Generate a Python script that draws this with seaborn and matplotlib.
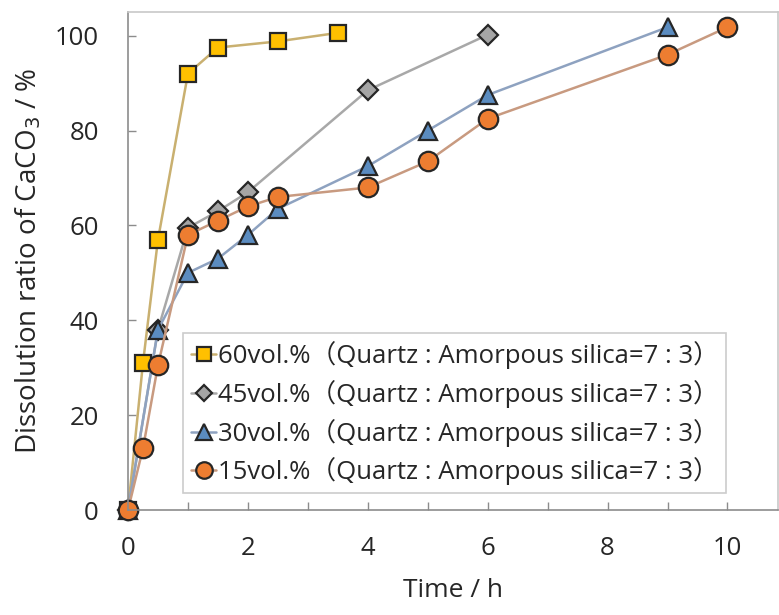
import matplotlib
matplotlib.use("Agg")
import matplotlib.pyplot as plt
import seaborn as sns
import pandas as pd

# ---- data ----
t60 = [0, 0.25, 0.5, 1, 1.5, 2.5, 3.5]
y60 = [0, 31, 57, 92, 97.5, 98.8, 100.6]
t45 = [0, 0.5, 1, 1.5, 2, 4, 6]
y45 = [0, 38, 59.5, 63, 67, 88.5, 100.2]
t30 = [0, 0.5, 1, 1.5, 2, 2.5, 4, 5, 6, 9]
y30 = [0, 38, 50, 53, 58, 63.5, 72.5, 80, 87.5, 101.8]
t15 = [0, 0.25, 0.5, 1, 1.5, 2, 2.5, 4, 5, 6, 9, 10]
y15 = [0, 13, 30.5, 58, 61, 64, 66, 68, 73.5, 82.5, 96, 101.8]
labels = ["60vol.%（Quartz : Amorpous silica=7 : 3）",
          "45vol.%（Quartz : Amorpous silica=7 : 3）",
          "30vol.%（Quartz : Amorpous silica=7 : 3）",
          "15vol.%（Quartz : Amorpous silica=7 : 3）"]
xticks = [0, 2, 4, 6, 8, 10]
yticks = [0, 20, 40, 60, 80, 100]

sns.set_theme(style="white")
plt.rcParams['font.family'] = ['Open Sans', 'Noto Sans CJK JP', 'DejaVu Sans']

fig = plt.figure(figsize=(7.79, 6.15), dpi=100)
ax = fig.add_axes([0.1643, 0.1707, 0.835, 0.8098])

series = [
    (t60, y60, labels[0], "s", "#FFC000", "#C9B070", 12),
    (t45, y45, labels[1], "D", "#A5A5A5", "#A8A8A8", 10),
    (t30, y30, labels[2], "^", "#5B8CC0", "#8EA2C0", 13),
    (t15, y15, labels[3], "o", "#ED7D31", "#C89A80", 14),
]
for tx, ty, lab, mk, fc, lc, ms in series:
    df = pd.DataFrame({"t": tx, "y": ty})
    sns.lineplot(data=df, x="t", y="y", ax=ax, label=lab, color=lc,
                 linewidth=1.8, marker=mk, markersize=ms,
                 markerfacecolor=fc, markeredgecolor="#262626",
                 markeredgewidth=1.6, clip_on=False, sort=False)

ax.set_xlim(0, 10.85)
ax.set_ylim(0, 105)
ax.set_xticks(xticks)
ax.set_xticks(range(0, 11), minor=True)
ax.set_yticks(yticks)
ax.tick_params(axis="both", which="both", direction="in", length=6,
               width=1, color="#8c8c8c", labelsize=18.5, labelcolor="#262626",
               bottom=True, left=True)
ax.tick_params(axis="x", which="major", pad=19)
ax.tick_params(axis="y", which="major", pad=21)
for s in ax.spines.values():
    s.set_color("#c8c8c8")
    s.set_linewidth(1.2)
ax.spines["bottom"].set_color("#8c8c8c")
ax.spines["left"].set_color("#8c8c8c")

ax.set_xlabel("Time / h", fontsize=19, color="#262626", labelpad=12)
ax.set_ylabel("Dissolution ratio of CaCO$_3$ / %", fontsize=20,
              color="#262626", labelpad=8)

leg = ax.legend(loc="lower left", bbox_to_anchor=(0.0845, 0.034),
                fontsize=18.5, frameon=True, fancybox=False, markerscale=0.85,
                handlelength=1.0, handletextpad=0.05, borderpad=0.3,
                labelspacing=0.42, borderaxespad=0)
leg.get_frame().set_edgecolor("#bfbfbf")
leg.get_frame().set_linewidth(1.2)
for txt in leg.get_texts():
    txt.set_color("#262626")

fig.savefig("out.png", dpi=100)
